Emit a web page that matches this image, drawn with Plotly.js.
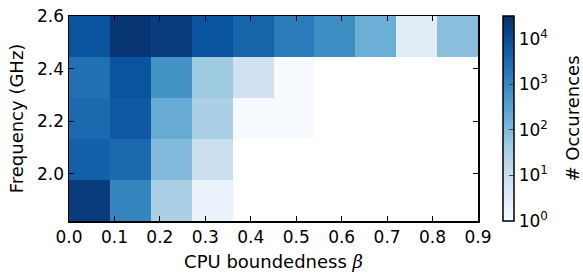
<!DOCTYPE html>
<html>
<head>
<meta charset="utf-8">
<script src="https://cdn.plot.ly/plotly-3.0.1.min.js"></script>
<style>html,body{margin:0;padding:0;background:#fff;}</style>
</head>
<body>
<div id="chart" style="width:583px;height:274px;"></div>
<script>
// Bin edges
const xEdges = [0.0, 0.09, 0.18, 0.27, 0.36, 0.45, 0.54, 0.63, 0.72, 0.81, 0.90];
const yEdges = [1.82, 1.976, 2.132, 2.288, 2.444, 2.6];
// Occurrence counts per row (bottom to top), null = no data
const row1 = [20000, 1100, 32, 2, null, null, null, null, null, null];
const row2 = [4500, 3200, 100, 10, null, null, null, null, null, null];
const row3 = [3200, 6300, 200, 32, 1, 1, null, null, null, null];
const row4 = [2500, 8000, 630, 50, 8, 1, null, null, null, null];
const row5 = [8000, 25000, 20000, 8000, 4000, 1600, 800, 180, 3, 80];
const counts = [row1, row2, row3, row4, row5];
const cbTickVals = [0, 1, 2, 3, 4];
const cbTickText = ['10<sup>0</sup>', '10<sup>1</sup>', '10<sup>2</sup>', '10<sup>3</sup>', '10<sup>4</sup>'];
const xTicks = [0.0, 0.1, 0.2, 0.3, 0.4, 0.5, 0.6, 0.7, 0.8, 0.9];
const yTicks = [2.0, 2.2, 2.4, 2.6];

const z = counts.map(r => r.map(v => v === null ? null : Math.log10(v)));

const blues = [
  [0.0, '#f7fbff'], [0.125, '#deebf7'], [0.25, '#c6dbef'], [0.375, '#9ecae1'],
  [0.5, '#6baed6'], [0.625, '#4292c6'], [0.75, '#2171b5'], [0.875, '#08519c'], [1.0, '#08306b']
];

const font = {family: 'DejaVu Sans', size: 17, color: '#000'};
const titleFont = {family: 'DejaVu Sans', size: 18, color: '#000'};

const trace = {
  type: 'heatmap',
  x: xEdges,
  y: yEdges,
  z: z,
  zmin: 0,
  zmax: 4.5,
  colorscale: blues,
  hoverongaps: false,
  colorbar: {
    x: (503 - 69) / 409,
    xanchor: 'left',
    xpad: 0,
    y: 0.5,
    yanchor: 'middle',
    ypad: 0,
    len: 1,
    lenmode: 'fraction',
    thickness: 11,
    thicknessmode: 'pixels',
    outlinewidth: 1.5,
    outlinecolor: '#000',
    tickmode: 'array',
    tickvals: cbTickVals,
    ticktext: cbTickText,
    ticks: 'inside',
    ticklen: 5,
    tickcolor: '#444',
    tickfont: font
  }
};

const layout = {
  width: 583,
  height: 274,
  margin: {l: 69, r: 105, t: 16, b: 53, pad: 0},
  paper_bgcolor: '#fff',
  plot_bgcolor: '#fff',
  font: font,
  xaxis: {
    range: [0, 0.9],
    tickmode: 'array',
    tickvals: xTicks,
    tickformat: '.1f',
    ticks: 'inside',
    ticklen: 5,
    tickwidth: 1,
    tickcolor: '#000',
    showline: true,
    linecolor: '#000',
    linewidth: 1.5,
    mirror: 'ticks',
    showgrid: false,
    zeroline: false,
    tickfont: font,
    title: {text: 'CPU boundedness <span style="font-family:\'DejaVu Serif\'"><i>β</i></span>', font: titleFont, standoff: 9}
  },
  yaxis: {
    range: [1.82, 2.6],
    tickmode: 'array',
    tickvals: yTicks,
    tickformat: '.1f',
    ticks: 'inside',
    ticklen: 5,
    tickwidth: 1,
    tickcolor: '#000',
    showline: true,
    linecolor: '#000',
    linewidth: 1.5,
    mirror: 'ticks',
    showgrid: false,
    zeroline: false,
    tickfont: font,
    title: {text: 'Frequency (GHz)', font: titleFont, standoff: 9}
  },
  annotations: [{
    text: '# Occurences',
    xref: 'paper', yref: 'paper',
    x: (572 - 69) / 409, y: 0.5,
    xanchor: 'center', yanchor: 'middle',
    textangle: -90,
    showarrow: false,
    font: titleFont
  }]
};

Plotly.newPlot('chart', [trace], layout, {displayModeBar: false, staticPlot: true});
</script>
</body>
</html>
